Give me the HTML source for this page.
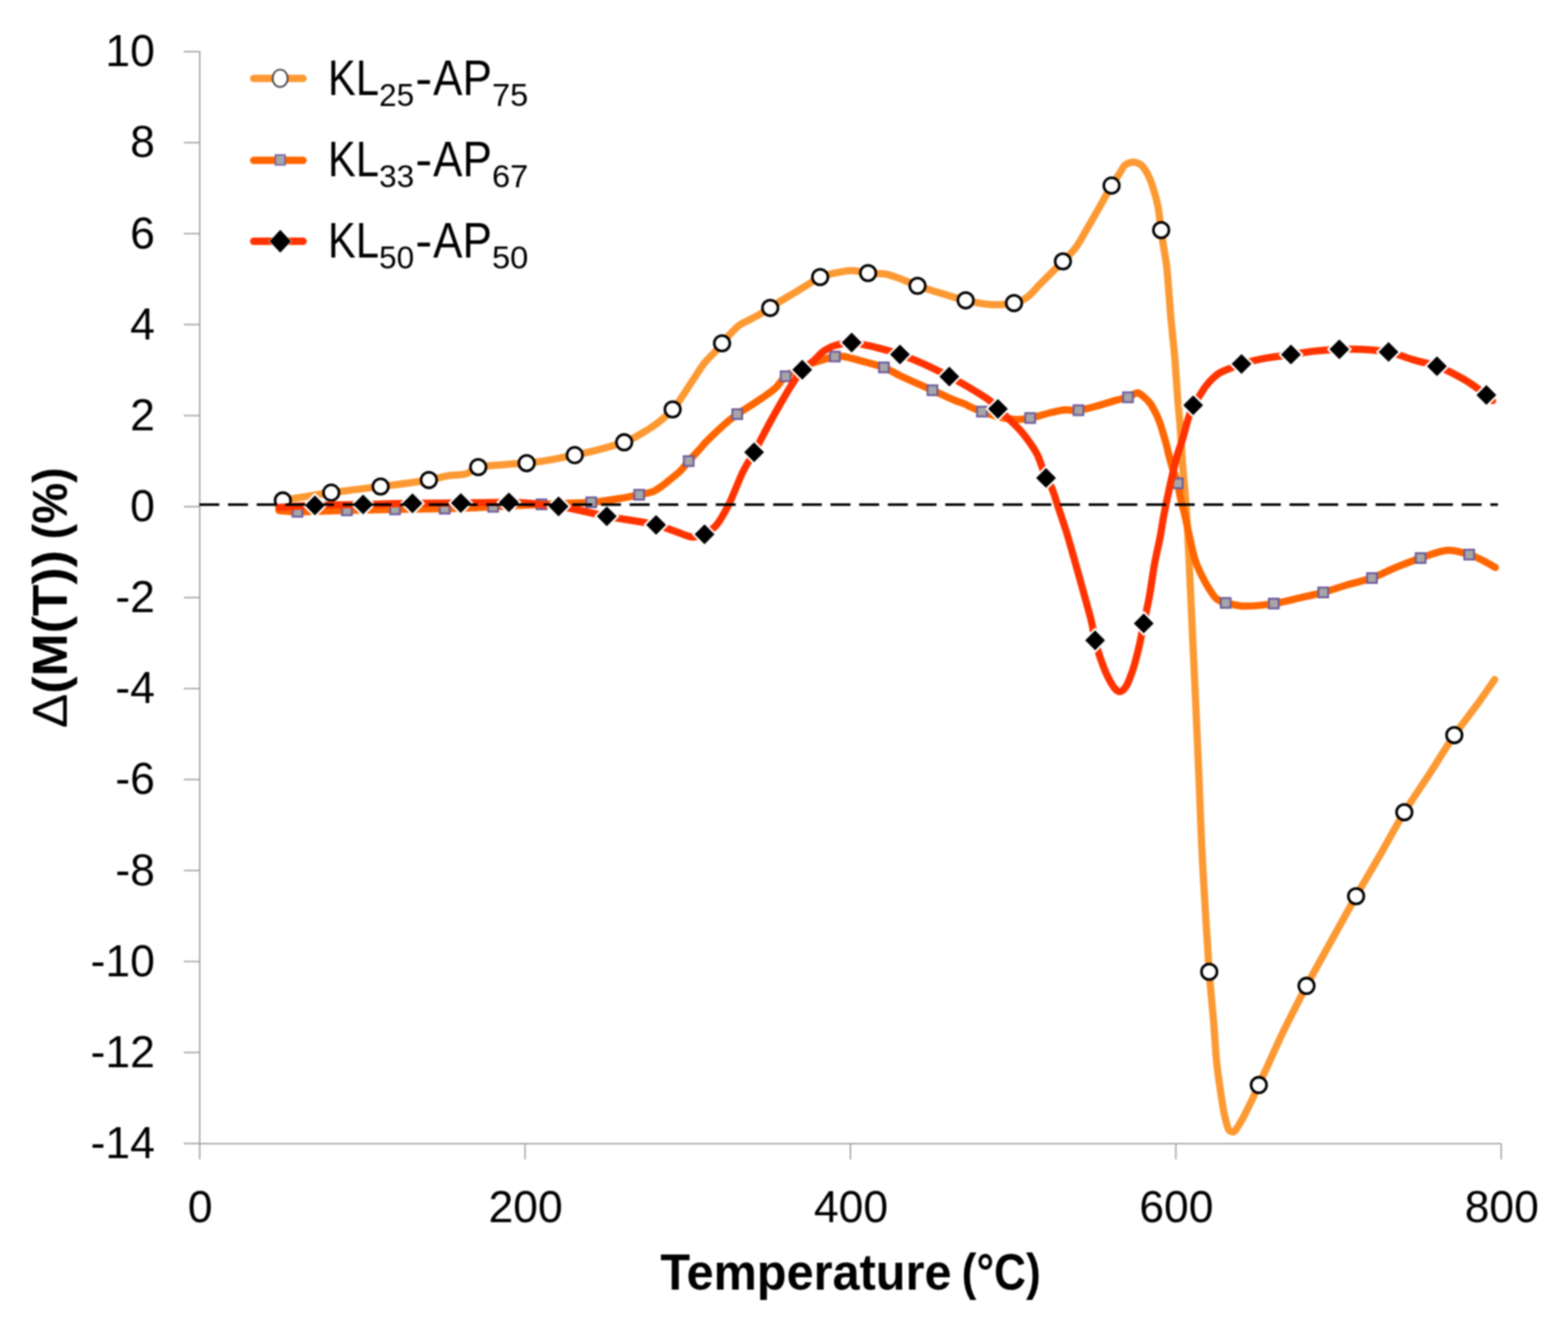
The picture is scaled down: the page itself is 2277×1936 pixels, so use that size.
<!DOCTYPE html>
<html><head><meta charset="utf-8"><style>html,body{margin:0;padding:0;background:#fff;overflow:hidden;width:2277px;height:1936px;}svg{display:block;}#w{filter:blur(0.8px);}</style></head><body><div id="w">
<svg width="2277" height="1936" viewBox="0 0 2277 1936">
<rect width="2277" height="1936" fill="#fff"/>
<g stroke="#a0a0a0" stroke-width="2" fill="none">
<path d="M290,74 V1661 H2180"/>
<path d="M267,75 H290"/>
<path d="M267,207.2 H290"/>
<path d="M267,339.3 H290"/>
<path d="M267,471.4 H290"/>
<path d="M267,603.6 H290"/>
<path d="M267,735.8 H290"/>
<path d="M267,867.9 H290"/>
<path d="M267,1000.1 H290"/>
<path d="M267,1132.2 H290"/>
<path d="M267,1264.3 H290"/>
<path d="M267,1396.5 H290"/>
<path d="M267,1528.6 H290"/>
<path d="M267,1660.8 H290"/>
<path d="M290,1661 V1684"/>
<path d="M762.5,1661 V1684"/>
<path d="M1235,1661 V1684"/>
<path d="M1707.5,1661 V1684"/>
<path d="M2180,1661 V1684"/>
</g>
<g font-family="Liberation Sans, sans-serif" font-size="64.6" fill="#000">
<text x="224.9" y="96.2" text-anchor="end">10</text>
<text x="224.9" y="228.3" text-anchor="end">8</text>
<text x="224.9" y="360.5" text-anchor="end">6</text>
<text x="224.9" y="492.6" text-anchor="end">4</text>
<text x="224.9" y="624.8" text-anchor="end">2</text>
<text x="224.9" y="757" text-anchor="end">0</text>
<text x="224.9" y="889.1" text-anchor="end">-2</text>
<text x="224.9" y="1021.3" text-anchor="end">-4</text>
<text x="224.9" y="1153.4" text-anchor="end">-6</text>
<text x="224.9" y="1285.5" text-anchor="end">-8</text>
<text x="224.9" y="1417.7" text-anchor="end">-10</text>
<text x="224.9" y="1549.8" text-anchor="end">-12</text>
<text x="224.9" y="1682" text-anchor="end">-14</text>
<text x="290.8" y="1774.5" text-anchor="middle">0</text>
<text x="763.3" y="1774.5" text-anchor="middle">200</text>
<text x="1235.8" y="1774.5" text-anchor="middle">400</text>
<text x="1708.3" y="1774.5" text-anchor="middle">600</text>
<text x="2180.8" y="1774.5" text-anchor="middle">800</text>
</g>
<text font-family="Liberation Sans, sans-serif" font-size="73.2" font-weight="bold" transform="translate(958.99,1872.5) scale(0.9657,1)">Temperature</text>
<text font-family="Liberation Sans, sans-serif" font-size="73.2" font-weight="bold" transform="translate(1396.59,1872.5) scale(0.8763,1)">(°C)</text>
<text font-family="Liberation Sans, sans-serif" font-size="70.7" font-weight="bold" transform="translate(97.4,1057.55) rotate(-90) scale(1.0621,1)"><tspan font-weight="normal">Δ</tspan>(M(T))</text>
<text font-family="Liberation Sans, sans-serif" font-size="70.7" font-weight="bold" transform="translate(97.4,783.15) rotate(-90) scale(0.9465,1)">(%)</text>
<path d="M410.7,726.8 C434.1,722.7 457.6,718.7 481,715.5 C504.9,712.2 528.8,709.7 552.7,706.6 C576.1,703.6 599.4,701 622.8,697.2 C631.3,695.8 639.7,693.1 648.2,691.4 C657.5,689.6 666.7,690.5 676,688.4 C682.2,687 688.3,679.5 694.5,678.4 C701.6,677.2 708.6,676.6 715.7,676 C725.3,675.2 735,674.5 744.6,673.8 C751.3,673.3 758.1,673.2 764.8,672.7 C788.1,670.9 811.3,665.4 834.6,661 C858.5,656.4 882.5,650.1 906.4,642.3 C918.1,638.5 929.7,630.8 941.4,623.6 C953.2,616.4 965,607.2 976.8,594.6 C986.6,584.1 996.5,566.3 1006.3,551.9 C1012.1,543.5 1017.8,533.6 1023.6,526.4 C1028.6,520.2 1033.6,516.3 1038.6,510.6 C1041.9,506.8 1045.2,502.5 1048.5,498.6 C1052.5,493.9 1056.6,488.9 1060.6,484.8 C1065.6,479.6 1070.7,474.1 1075.7,470.9 C1079.5,468.5 1083.4,467.1 1087.2,465.1 C1092.2,462.5 1097.3,459.9 1102.3,457 C1107.7,453.9 1113.1,450.6 1118.5,447.2 C1123.5,444 1128.5,440.4 1133.5,437.3 C1141.2,432.5 1148.9,428.2 1156.6,423.5 C1162,420.2 1167.3,416.9 1172.7,413.6 C1178.8,409.9 1184.9,404.8 1191,402.4 C1198.1,399.6 1205.3,397.8 1212.4,396.6 C1220.9,395.1 1229.5,392.7 1238,393.1 C1245.5,393.4 1253.1,395.8 1260.6,396.6 C1268.4,397.5 1276.3,396.8 1284.1,397.8 C1291.8,398.8 1299.5,402 1307.2,404.7 C1315.6,407.7 1324,412.1 1332.4,415.1 C1343.3,419 1354.2,422.2 1365.1,425.5 C1377.5,429.2 1389.9,433.4 1402.3,436.2 C1413.1,438.6 1423.9,441.1 1434.7,442 C1440.5,442.5 1446.2,442.7 1452,442.6 C1458.8,442.5 1465.7,441.3 1472.5,440.2 C1478.6,439.2 1484.6,436.2 1490.7,432.3 C1497.5,427.9 1504.3,418.7 1511.1,411.9 C1517.9,405.1 1524.7,398.3 1531.5,391.5 C1535.5,387.5 1539.5,383.7 1543.5,379.6 C1549.6,373.4 1555.8,367.9 1561.9,359.9 C1567.7,352.4 1573.5,340.9 1579.3,331 C1585.1,321.2 1590.8,311.1 1596.6,300.9 C1602.5,290.6 1608.3,279.1 1614.2,269.5 C1617.8,263.6 1621.4,258.6 1625,253.1 C1628,248.6 1631,241.5 1634,239.5 C1638.3,236.6 1642.7,235.2 1647,235.5 C1649.9,235.7 1652.7,236.9 1655.6,238.4 C1658.2,239.7 1660.9,243.7 1663.5,247.4 C1665.8,250.6 1668,255.7 1670.3,261 C1672.2,265.5 1674.1,271.8 1676,278 C1677.9,284.2 1679.8,290.7 1681.7,300.7 C1683.2,308.6 1684.7,323.6 1686.2,334.2 C1687.3,342.2 1688.5,349.9 1689.6,357.4 C1691.1,367.4 1692.6,373.2 1694.1,385.8 C1696.1,402.8 1698.2,437.1 1700.2,460 C1702.1,481.8 1704.1,496.8 1706,520 C1707.4,537.2 1708.9,561.5 1710.3,580 C1711.6,596.7 1712.9,607.5 1714.2,625.3 C1715.1,638.1 1716.1,658 1717,670.7 C1718.3,688.9 1719.7,698.8 1721,716 C1722,728.9 1723,743.7 1724,760 C1724.7,772 1725.5,786.4 1726.2,801.2 C1727.1,820.1 1728.1,842 1729,862.4 C1729.9,882.8 1730.9,903.6 1731.8,923.7 C1732.8,944.5 1733.7,964.1 1734.7,984.9 C1735.5,1002.9 1736.4,1021.2 1737.2,1040 C1738.6,1070.8 1739.9,1102 1741.3,1134.6 C1742.6,1164.8 1743.8,1202.9 1745.1,1229 C1746.9,1266.1 1748.7,1294.1 1750.5,1323.9 C1752.3,1354.3 1754.2,1386.9 1756,1411.4 C1758.2,1441.3 1760.5,1460.3 1762.7,1488 C1764.1,1505 1765.4,1529.2 1766.8,1542.4 C1768.6,1559.8 1770.4,1571.4 1772.2,1583.3 C1774,1595.5 1775.9,1609.5 1777.7,1617.3 C1780.4,1628.7 1783.1,1640.8 1785.8,1642.5 C1788.5,1644.3 1791.3,1644.7 1794,1641.5 C1798.1,1636.8 1802.1,1628.8 1806.2,1621.4 C1809.8,1614.8 1813.5,1607.2 1817.1,1599.6 C1820.7,1592 1824.4,1583.7 1828,1575.8 C1832.1,1566.9 1836.1,1558.2 1840.2,1549.3 C1847,1534.4 1853.8,1518.7 1860.6,1504.4 C1867.4,1490.1 1874.2,1476.9 1881,1463.5 C1886.4,1452.8 1891.9,1442 1897.3,1431.8 C1909.5,1408.9 1921.7,1387.4 1933.9,1365.3 C1945.7,1344 1957.5,1322.4 1969.3,1301.6 C1981.1,1280.8 1992.9,1261.1 2004.7,1240.6 C2016.2,1220.5 2027.8,1198.6 2039.3,1179.7 C2051.4,1159.9 2063.5,1143.1 2075.6,1124.4 C2087.7,1105.7 2099.8,1085.2 2111.9,1067.7 C2122.5,1052.4 2133,1039.8 2143.6,1025.2 C2152.6,1012.8 2161.5,1000 2170.5,986.9" fill="none" stroke="#fc9933" stroke-width="10.5" stroke-linecap="round" stroke-linejoin="round"/>
<circle cx="410.7" cy="726.8" r="11.3" fill="#fff" stroke="#000" stroke-width="3.8"/><circle cx="481" cy="715.5" r="11.3" fill="#fff" stroke="#000" stroke-width="3.8"/><circle cx="552.7" cy="706.6" r="11.3" fill="#fff" stroke="#000" stroke-width="3.8"/><circle cx="622.8" cy="697.2" r="11.3" fill="#fff" stroke="#000" stroke-width="3.8"/><circle cx="694.5" cy="678.4" r="11.3" fill="#fff" stroke="#000" stroke-width="3.8"/><circle cx="764.8" cy="672.7" r="11.3" fill="#fff" stroke="#000" stroke-width="3.8"/><circle cx="834.6" cy="661" r="11.3" fill="#fff" stroke="#000" stroke-width="3.8"/><circle cx="906.4" cy="642.3" r="11.3" fill="#fff" stroke="#000" stroke-width="3.8"/><circle cx="976.8" cy="594.6" r="11.3" fill="#fff" stroke="#000" stroke-width="3.8"/><circle cx="1048.5" cy="498.6" r="11.3" fill="#fff" stroke="#000" stroke-width="3.8"/><circle cx="1118.5" cy="447.2" r="11.3" fill="#fff" stroke="#000" stroke-width="3.8"/><circle cx="1191" cy="402.4" r="11.3" fill="#fff" stroke="#000" stroke-width="3.8"/><circle cx="1260.6" cy="396.6" r="11.3" fill="#fff" stroke="#000" stroke-width="3.8"/><circle cx="1332.4" cy="415.1" r="11.3" fill="#fff" stroke="#000" stroke-width="3.8"/><circle cx="1402.3" cy="436.2" r="11.3" fill="#fff" stroke="#000" stroke-width="3.8"/><circle cx="1472.5" cy="440.2" r="11.3" fill="#fff" stroke="#000" stroke-width="3.8"/><circle cx="1543.5" cy="379.6" r="11.3" fill="#fff" stroke="#000" stroke-width="3.8"/><circle cx="1614.2" cy="269.5" r="11.3" fill="#fff" stroke="#000" stroke-width="3.8"/><circle cx="1686.2" cy="334.2" r="11.3" fill="#fff" stroke="#000" stroke-width="3.8"/><circle cx="1756" cy="1411.4" r="11.3" fill="#fff" stroke="#000" stroke-width="3.8"/><circle cx="1828" cy="1575.8" r="11.3" fill="#fff" stroke="#000" stroke-width="3.8"/><circle cx="1897.3" cy="1431.8" r="11.3" fill="#fff" stroke="#000" stroke-width="3.8"/><circle cx="1969.3" cy="1301.6" r="11.3" fill="#fff" stroke="#000" stroke-width="3.8"/><circle cx="2039.3" cy="1179.7" r="11.3" fill="#fff" stroke="#000" stroke-width="3.8"/><circle cx="2111.9" cy="1067.7" r="11.3" fill="#fff" stroke="#000" stroke-width="3.8"/>

<path d="M405,741.5 C414,742.3 423,743.4 432,743.3 C455.9,742.9 479.9,741.7 503.8,741.2 C527.1,740.7 550.4,740.2 573.7,739.8 C597.7,739.4 621.8,739.3 645.8,738.8 C669.3,738.3 692.7,737.1 716.2,736 C739.6,735 762.9,733.6 786.3,732.5 C810.4,731.4 834.5,731.1 858.6,729.6 C865.7,729.2 872.9,727.9 880,727 C886.7,726.1 893.5,725.1 900.2,724 C909.5,722.4 918.9,720.5 928.2,718.6 C934.6,717.3 941.1,716.2 947.5,714.2 C952,712.8 956.5,709.2 961,706.1 C965.5,703 970,699 974.5,695.3 C979,691.6 983.5,688.3 988,683.9 C992,679.9 996.1,674.2 1000.1,669.7 C1005.1,664.1 1010,659 1015,653.5 C1018.4,649.7 1021.9,645.2 1025.3,641.8 C1040.4,626.6 1055.5,612.4 1070.6,601.5 C1076.3,597.4 1081.9,594.4 1087.6,590.7 C1094.4,586.3 1101.2,581.8 1108,577.1 C1114.1,572.9 1120.1,568.9 1126.2,563.5 C1131.1,559.1 1136,550 1140.9,546.5 C1153,537.9 1165.2,532.2 1177.3,528.1 C1183.2,526.1 1189.1,524.4 1195,522.7 C1200.8,521 1206.6,518.6 1212.4,517.8 C1217,517.1 1221.7,517.3 1226.3,518 C1234,519.2 1241.7,521.8 1249.4,523.8 C1255.2,525.3 1260.9,526.9 1266.7,528.5 C1272.3,530.1 1278,531.5 1283.6,533.6 C1291.5,536.6 1299.3,542 1307.2,545.8 C1314.9,549.5 1322.7,552.7 1330.4,556.2 C1338.3,559.7 1346.2,563.3 1354.1,566.8 C1365.7,572 1377.2,577.7 1388.8,582.4 C1392.5,583.9 1396.3,584.7 1400,586.3 C1403.9,587.9 1407.7,590.3 1411.6,592 C1416.4,594.1 1421.2,596.2 1426,597.8 C1437.4,601.6 1448.7,605.6 1460.1,607.5 C1465.1,608.3 1470.2,609.2 1475.2,609.2 C1482.1,609.2 1489.1,608.3 1496,607.1 C1506.4,605.3 1516.8,601.4 1527.2,599 C1533,597.7 1538.8,596.1 1544.6,595.5 C1551.8,594.7 1558.9,596.6 1566.1,595.8 C1576.3,594.7 1586.4,591.4 1596.6,588.6 C1604.3,586.5 1612.1,583.8 1619.8,581.6 C1625.9,579.9 1631.9,578.8 1638,577 C1642.6,575.6 1647.1,571 1651.7,570.5 C1654.6,570.2 1657.5,573.7 1660.4,575.9 C1663.6,578.3 1666.9,581.6 1670.1,585.6 C1673,589.2 1675.9,595.1 1678.8,600.9 C1680.9,605 1682.9,610.2 1685,616 C1686.6,620.4 1688.1,626.2 1689.7,631.5 C1691,635.9 1692.3,640.1 1693.6,645 C1694.9,649.9 1696.2,656.3 1697.5,661.4 C1698.9,667 1700.4,672.5 1701.8,677.3 C1704.7,687.1 1707.6,690.5 1710.5,702 C1711.6,706.4 1712.7,715.8 1713.8,721 C1716.2,732.3 1718.6,739.5 1721,750 C1723.2,759.5 1725.3,770.4 1727.5,780 C1730,790.9 1732.4,803.7 1734.9,811.4 C1737.6,820 1740.4,826.2 1743.1,831.8 C1747.2,840.1 1751.2,848.1 1755.3,854.3 C1759.4,860.6 1763.5,868.1 1767.6,870.6 C1771.7,873.1 1775.8,874.9 1779.9,875.7 C1789,877.6 1798.2,880.3 1807.3,880.3 C1821.5,880.3 1835.6,878.9 1849.8,876.6 C1863.1,874.5 1876.4,870.9 1889.7,867.9 C1900.3,865.5 1911,863.3 1921.6,860.4 C1933.4,857.2 1945.2,852.7 1957,849.2 C1968.8,845.7 1980.6,843.6 1992.4,839.5 C2003.9,835.5 2015.4,828.9 2026.9,824.2 C2038.9,819.3 2051,814.6 2063,810.5 C2075.9,806.2 2088.8,800.6 2101.7,799.3 C2112.3,798.3 2123,802.3 2133.6,805.5 C2146.2,809.3 2158.9,816.7 2171.5,824.2" fill="none" stroke="#ff6600" stroke-width="10.5" stroke-linecap="round" stroke-linejoin="round"/>
<rect x="424.9" y="736.2" width="14.2" height="14.2" fill="#a6a6a6" stroke="#6e5b9a" stroke-width="2.8"/><rect x="496.7" y="734.1" width="14.2" height="14.2" fill="#a6a6a6" stroke="#6e5b9a" stroke-width="2.8"/><rect x="566.6" y="732.7" width="14.2" height="14.2" fill="#a6a6a6" stroke="#6e5b9a" stroke-width="2.8"/><rect x="638.7" y="731.7" width="14.2" height="14.2" fill="#a6a6a6" stroke="#6e5b9a" stroke-width="2.8"/><rect x="709.1" y="728.9" width="14.2" height="14.2" fill="#a6a6a6" stroke="#6e5b9a" stroke-width="2.8"/><rect x="779.2" y="725.4" width="14.2" height="14.2" fill="#a6a6a6" stroke="#6e5b9a" stroke-width="2.8"/><rect x="851.5" y="722.5" width="14.2" height="14.2" fill="#a6a6a6" stroke="#6e5b9a" stroke-width="2.8"/><rect x="921.1" y="711.5" width="14.2" height="14.2" fill="#a6a6a6" stroke="#6e5b9a" stroke-width="2.8"/><rect x="993" y="662.6" width="14.2" height="14.2" fill="#a6a6a6" stroke="#6e5b9a" stroke-width="2.8"/><rect x="1063.5" y="594.4" width="14.2" height="14.2" fill="#a6a6a6" stroke="#6e5b9a" stroke-width="2.8"/><rect x="1133.8" y="539.4" width="14.2" height="14.2" fill="#a6a6a6" stroke="#6e5b9a" stroke-width="2.8"/><rect x="1205.3" y="510.7" width="14.2" height="14.2" fill="#a6a6a6" stroke="#6e5b9a" stroke-width="2.8"/><rect x="1276.5" y="526.5" width="14.2" height="14.2" fill="#a6a6a6" stroke="#6e5b9a" stroke-width="2.8"/><rect x="1347" y="559.7" width="14.2" height="14.2" fill="#a6a6a6" stroke="#6e5b9a" stroke-width="2.8"/><rect x="1418.9" y="590.7" width="14.2" height="14.2" fill="#a6a6a6" stroke="#6e5b9a" stroke-width="2.8"/><rect x="1488.9" y="600" width="14.2" height="14.2" fill="#a6a6a6" stroke="#6e5b9a" stroke-width="2.8"/><rect x="1559" y="588.7" width="14.2" height="14.2" fill="#a6a6a6" stroke="#6e5b9a" stroke-width="2.8"/><rect x="1630.9" y="569.9" width="14.2" height="14.2" fill="#a6a6a6" stroke="#6e5b9a" stroke-width="2.8"/><rect x="1703.4" y="694.9" width="14.2" height="14.2" fill="#a6a6a6" stroke="#6e5b9a" stroke-width="2.8"/><rect x="1772.8" y="868.6" width="14.2" height="14.2" fill="#a6a6a6" stroke="#6e5b9a" stroke-width="2.8"/><rect x="1842.7" y="869.5" width="14.2" height="14.2" fill="#a6a6a6" stroke="#6e5b9a" stroke-width="2.8"/><rect x="1914.5" y="853.3" width="14.2" height="14.2" fill="#a6a6a6" stroke="#6e5b9a" stroke-width="2.8"/><rect x="1985.3" y="832.4" width="14.2" height="14.2" fill="#a6a6a6" stroke="#6e5b9a" stroke-width="2.8"/><rect x="2055.9" y="803.4" width="14.2" height="14.2" fill="#a6a6a6" stroke="#6e5b9a" stroke-width="2.8"/><rect x="2126.5" y="798.4" width="14.2" height="14.2" fill="#a6a6a6" stroke="#6e5b9a" stroke-width="2.8"/>

<path d="M405,737 C422.4,735.8 439.9,734.4 457.3,734 C480.6,733.4 504,733.2 527.3,732.7 C551.2,732.2 575.1,731.3 599,731 C622.4,730.7 645.8,730.8 669.2,730.6 C692.5,730.4 715.7,729.8 739,729.6 C763.1,729.4 787.1,732.4 811.2,735.5 C834.5,738.5 857.9,745.3 881.2,749.8 C905.1,754.4 928.9,756.7 952.8,762.3 C961.9,764.4 970.9,768.4 980,771.5 C987.6,774.1 995.1,778 1002.7,779.6 C1009.5,781.1 1016.3,778.1 1023.1,776 C1028.4,774.4 1033.6,769.4 1038.9,764.2 C1045,758.2 1051,746.7 1057.1,735.2 C1064.6,720.9 1072.2,698.3 1079.7,683.5 C1084.8,673.4 1090,666.1 1095.1,656.8 C1103.2,642.1 1111.3,625.7 1119.4,611.1 C1130,592.1 1140.5,573.2 1151.1,556.7 C1155.7,549.5 1160.4,541.7 1165,537 C1170.3,531.6 1175.7,529.2 1181,524.5 C1186.3,519.8 1191.7,513 1197,509.5 C1202.5,505.9 1208,502.8 1213.5,501.5 C1221.3,499.6 1229,496.9 1236.8,497.5 C1244.9,498.1 1252.9,500.2 1261,501.9 C1268.7,503.6 1276.4,505.5 1284.1,507.6 C1291.7,509.7 1299.3,512.2 1306.9,514.8 C1314.7,517.5 1322.6,520.6 1330.4,523.8 C1338.1,527 1345.8,530.5 1353.5,534.2 C1361.9,538.2 1370.2,542.5 1378.6,546.9 C1385.7,550.6 1392.9,554.4 1400,558.5 C1407.7,562.9 1415.4,567.6 1423.1,572.4 C1427.7,575.3 1432.4,577.9 1437,581.6 C1441.1,584.8 1445.1,589.9 1449.2,593.8 C1454.4,598.8 1459.6,603.2 1464.8,608.2 C1470.2,613.4 1475.6,618.5 1481,624.4 C1485.6,629.4 1490.2,635.5 1494.8,641.8 C1498.7,647.1 1502.5,652.6 1506.4,660.3 C1510.6,668.6 1514.8,684.7 1519,694.2 C1521.9,700.8 1524.9,702.8 1527.8,709.8 C1531.1,717.7 1534.4,729.6 1537.7,739.5 C1541,749.4 1544.3,758.8 1547.6,769.3 C1550.9,779.8 1554.2,791.5 1557.5,803 C1560.8,814.6 1564.2,826.7 1567.5,838.7 C1570.8,850.5 1574.1,862.3 1577.4,874.4 C1580,884.1 1582.7,892.8 1585.3,904.2 C1587,911.4 1588.6,923.1 1590.3,930 C1592.6,939.5 1594.9,947.2 1597.2,953.8 C1600.5,963.3 1603.8,972.7 1607.1,979.6 C1610.4,986.5 1613.8,993 1617.1,997.5 C1618.6,999.5 1620.1,1001.6 1621.6,1002.6 C1623.1,1003.6 1624.5,1004.6 1626,1004.6 C1627.5,1004.6 1628.9,1003.5 1630.4,1002.6 C1631.9,1001.7 1633.4,999.7 1634.9,997.5 C1638.2,992.7 1641.5,983.2 1644.8,973.7 C1648.1,964.1 1651.5,950.5 1654.8,936 C1656.8,927.2 1658.9,915.3 1660.9,905.4 C1663.5,892.7 1666.1,882.5 1668.7,868.5 C1671.3,854.3 1674,833.4 1676.6,818.9 C1679.3,804 1682,794.5 1684.7,780 C1686.4,770.9 1688.1,759.2 1689.8,750 C1691.7,739.8 1693.6,730.6 1695.5,721.6 C1697.6,711.8 1699.6,702.3 1701.7,693.3 C1704,683.4 1706.2,673.1 1708.5,665 C1711.5,654.1 1714.6,646.9 1717.6,636.7 C1720.2,627.8 1722.9,616.6 1725.5,608.3 C1727.9,600.8 1730.3,593 1732.7,588.6 C1735.7,583 1738.8,579.6 1741.8,575 C1744.7,570.5 1747.7,565.3 1750.6,561.4 C1754,556.9 1757.4,553 1760.8,549.9 C1764.2,546.8 1767.6,543.6 1771,541.7 C1775.5,539.2 1780.1,537.4 1784.6,535.6 C1790.7,533.1 1796.8,530.4 1802.9,528.6 C1815.2,525 1827.5,521.9 1839.8,519.9 C1851.4,518 1863.1,516.6 1874.7,514.9 C1886.3,513.2 1898,511.1 1909.6,509.9 C1921.4,508.7 1933.2,507.7 1945,507.3 C1956.5,506.9 1968,507.1 1979.5,507.4 C1991.8,507.7 2004.1,509.1 2016.4,511.2 C2028.2,513.2 2040,518.9 2051.8,522.4 C2063.4,525.9 2075.1,528 2086.7,531.9 C2099.2,536.1 2111.6,542.8 2124.1,549.8 C2135.6,556.2 2147,564.8 2158.5,573.7 C2161.5,576 2164.5,578.8 2167.5,581.8" fill="none" stroke="#ff3300" stroke-width="10.5" stroke-linecap="round" stroke-linejoin="round"/>
<path d="M457.3,715.6 L475.7,734 L457.3,752.4 L438.9,734Z" fill="#fff"/><path d="M457.3,719.6 L471.7,734 L457.3,748.4 L442.9,734Z" fill="#000"/><path d="M527.3,714.3 L545.7,732.7 L527.3,751.1 L508.9,732.7Z" fill="#fff"/><path d="M527.3,718.3 L541.7,732.7 L527.3,747.1 L512.9,732.7Z" fill="#000"/><path d="M599,712.6 L617.4,731 L599,749.4 L580.6,731Z" fill="#fff"/><path d="M599,716.6 L613.4,731 L599,745.4 L584.6,731Z" fill="#000"/><path d="M669.2,712.2 L687.6,730.6 L669.2,749 L650.8,730.6Z" fill="#fff"/><path d="M669.2,716.2 L683.6,730.6 L669.2,745 L654.8,730.6Z" fill="#000"/><path d="M739,711.2 L757.4,729.6 L739,748 L720.6,729.6Z" fill="#fff"/><path d="M739,715.2 L753.4,729.6 L739,744 L724.6,729.6Z" fill="#000"/><path d="M811.2,717.1 L829.6,735.5 L811.2,753.9 L792.8,735.5Z" fill="#fff"/><path d="M811.2,721.1 L825.6,735.5 L811.2,749.9 L796.8,735.5Z" fill="#000"/><path d="M881.2,731.4 L899.6,749.8 L881.2,768.2 L862.8,749.8Z" fill="#fff"/><path d="M881.2,735.4 L895.6,749.8 L881.2,764.2 L866.8,749.8Z" fill="#000"/><path d="M952.8,743.9 L971.2,762.3 L952.8,780.7 L934.4,762.3Z" fill="#fff"/><path d="M952.8,747.9 L967.2,762.3 L952.8,776.7 L938.4,762.3Z" fill="#000"/><path d="M1023.1,757.6 L1041.5,776 L1023.1,794.4 L1004.7,776Z" fill="#fff"/><path d="M1023.1,761.6 L1037.5,776 L1023.1,790.4 L1008.7,776Z" fill="#000"/><path d="M1095.1,638.4 L1113.5,656.8 L1095.1,675.2 L1076.7,656.8Z" fill="#fff"/><path d="M1095.1,642.4 L1109.5,656.8 L1095.1,671.2 L1080.7,656.8Z" fill="#000"/><path d="M1165,518.6 L1183.4,537 L1165,555.4 L1146.6,537Z" fill="#fff"/><path d="M1165,522.6 L1179.4,537 L1165,551.4 L1150.6,537Z" fill="#000"/><path d="M1236.8,479.1 L1255.2,497.5 L1236.8,515.9 L1218.4,497.5Z" fill="#fff"/><path d="M1236.8,483.1 L1251.2,497.5 L1236.8,511.9 L1222.4,497.5Z" fill="#000"/><path d="M1306.9,496.4 L1325.3,514.8 L1306.9,533.2 L1288.5,514.8Z" fill="#fff"/><path d="M1306.9,500.4 L1321.3,514.8 L1306.9,529.2 L1292.5,514.8Z" fill="#000"/><path d="M1378.6,528.5 L1397,546.9 L1378.6,565.3 L1360.2,546.9Z" fill="#fff"/><path d="M1378.6,532.5 L1393,546.9 L1378.6,561.3 L1364.2,546.9Z" fill="#000"/><path d="M1449.2,575.4 L1467.6,593.8 L1449.2,612.2 L1430.8,593.8Z" fill="#fff"/><path d="M1449.2,579.4 L1463.6,593.8 L1449.2,608.2 L1434.8,593.8Z" fill="#000"/><path d="M1519,675.8 L1537.4,694.2 L1519,712.6 L1500.6,694.2Z" fill="#fff"/><path d="M1519,679.8 L1533.4,694.2 L1519,708.6 L1504.6,694.2Z" fill="#000"/><path d="M1590.3,911.6 L1608.7,930 L1590.3,948.4 L1571.9,930Z" fill="#fff"/><path d="M1590.3,915.6 L1604.7,930 L1590.3,944.4 L1575.9,930Z" fill="#000"/><path d="M1660.9,887 L1679.3,905.4 L1660.9,923.8 L1642.5,905.4Z" fill="#fff"/><path d="M1660.9,891 L1675.3,905.4 L1660.9,919.8 L1646.5,905.4Z" fill="#000"/><path d="M1732.7,570.2 L1751.1,588.6 L1732.7,607 L1714.3,588.6Z" fill="#fff"/><path d="M1732.7,574.2 L1747.1,588.6 L1732.7,603 L1718.3,588.6Z" fill="#000"/><path d="M1802.9,510.2 L1821.3,528.6 L1802.9,547 L1784.5,528.6Z" fill="#fff"/><path d="M1802.9,514.2 L1817.3,528.6 L1802.9,543 L1788.5,528.6Z" fill="#000"/><path d="M1874.7,496.5 L1893.1,514.9 L1874.7,533.3 L1856.3,514.9Z" fill="#fff"/><path d="M1874.7,500.5 L1889.1,514.9 L1874.7,529.3 L1860.3,514.9Z" fill="#000"/><path d="M1945,488.9 L1963.4,507.3 L1945,525.7 L1926.6,507.3Z" fill="#fff"/><path d="M1945,492.9 L1959.4,507.3 L1945,521.7 L1930.6,507.3Z" fill="#000"/><path d="M2016.4,492.8 L2034.8,511.2 L2016.4,529.6 L1998,511.2Z" fill="#fff"/><path d="M2016.4,496.8 L2030.8,511.2 L2016.4,525.6 L2002,511.2Z" fill="#000"/><path d="M2086.7,513.5 L2105.1,531.9 L2086.7,550.3 L2068.3,531.9Z" fill="#fff"/><path d="M2086.7,517.5 L2101.1,531.9 L2086.7,546.3 L2072.3,531.9Z" fill="#000"/><path d="M2158.5,555.3 L2176.9,573.7 L2158.5,592.1 L2140.1,573.7Z" fill="#fff"/><path d="M2158.5,559.3 L2172.9,573.7 L2158.5,588.1 L2144.1,573.7Z" fill="#000"/>

<path d="M289.5,732.8 H2175.3" stroke="#000" stroke-width="3.8" stroke-dasharray="29 12.66" fill="none"/>
<path d="M368.5,113.9 H440" stroke="#fc9933" stroke-width="10.8" stroke-linecap="round"/>
<ellipse cx="406.8" cy="113.7" rx="10.9" ry="12.6" fill="#fff" stroke="#404040" stroke-width="2.4"/>
<text font-family="Liberation Sans, sans-serif" font-size="71.4" font-weight="normal" transform="translate(476.36,137.5) scale(0.8479,1)">KL</text><text font-family="Liberation Sans, sans-serif" font-size="45.9" font-weight="normal" transform="translate(550.62,154.4) scale(0.9953,1)">25</text><text font-family="Liberation Sans, sans-serif" font-size="71.4" font-weight="normal" transform="translate(603.02,137.5) scale(1.0420,1)">-</text><text font-family="Liberation Sans, sans-serif" font-size="71.4" font-weight="normal" transform="translate(629.10,137.5) scale(0.8940,1)">AP</text><text font-family="Liberation Sans, sans-serif" font-size="45.9" font-weight="normal" transform="translate(714.43,154.4) scale(1.0338,1)">75</text>
<path d="M368.5,232.9 H440" stroke="#ff6600" stroke-width="10.8" stroke-linecap="round"/>
<rect x="400" y="225" width="14" height="14.5" fill="#a6a6a6" stroke="#6e5b9a" stroke-width="2"/>
<text font-family="Liberation Sans, sans-serif" font-size="71.4" font-weight="normal" transform="translate(476.36,255.5) scale(0.8479,1)">KL</text><text font-family="Liberation Sans, sans-serif" font-size="45.9" font-weight="normal" transform="translate(550.62,272.4) scale(0.9953,1)">33</text><text font-family="Liberation Sans, sans-serif" font-size="71.4" font-weight="normal" transform="translate(603.02,255.5) scale(1.0420,1)">-</text><text font-family="Liberation Sans, sans-serif" font-size="71.4" font-weight="normal" transform="translate(629.10,255.5) scale(0.8940,1)">AP</text><text font-family="Liberation Sans, sans-serif" font-size="45.9" font-weight="normal" transform="translate(714.43,272.4) scale(1.0338,1)">67</text>
<path d="M368.5,350.4 H440" stroke="#ff3300" stroke-width="10.8" stroke-linecap="round"/>
<path d="M407,333.2 L423.5,350.4 L407,367.6 L390.5,350.4Z" fill="#fff"/>
<path d="M407,333.8 L422.5,350.4 L407,367 L391.5,350.4Z" fill="#000"/>
<text font-family="Liberation Sans, sans-serif" font-size="71.4" font-weight="normal" transform="translate(476.36,373.5) scale(0.8479,1)">KL</text><text font-family="Liberation Sans, sans-serif" font-size="45.9" font-weight="normal" transform="translate(550.62,390.4) scale(0.9953,1)">50</text><text font-family="Liberation Sans, sans-serif" font-size="71.4" font-weight="normal" transform="translate(603.02,373.5) scale(1.0420,1)">-</text><text font-family="Liberation Sans, sans-serif" font-size="71.4" font-weight="normal" transform="translate(629.10,373.5) scale(0.8940,1)">AP</text><text font-family="Liberation Sans, sans-serif" font-size="45.9" font-weight="normal" transform="translate(714.43,390.4) scale(1.0338,1)">50</text>
</svg>
</div></body></html>
